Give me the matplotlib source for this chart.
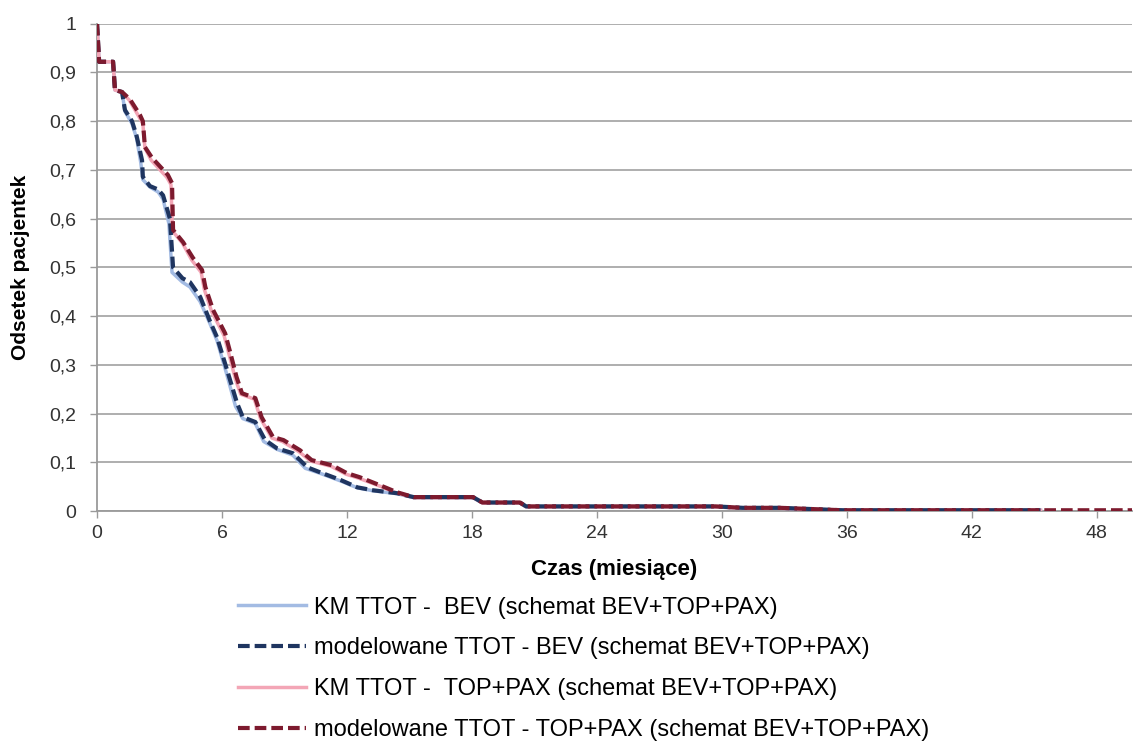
import matplotlib
matplotlib.use("Agg")
import matplotlib.pyplot as plt

plt.rcParams["font.family"] = ["Liberation Sans", "DejaVu Sans"]

# BEV arm (time in months, proportion of patients)
bev_mod_t = [0, 0.1, 0.77, 0.86, 1.2, 1.34, 1.68, 1.9, 2.16, 2.2,
             2.54, 2.93, 3.17, 3.5, 3.65, 4.1, 4.46, 4.95, 5.42, 5.76,
             6.24, 6.72, 7.0, 7.6, 8.07, 8.64, 9.4, 10.1, 10.7, 11.7,
             12.5, 13.25, 14.4, 15.2, 18.05, 18.5, 20.3, 20.6, 29.7, 31.0,
             32.8, 35.8, 45.3]
bev_mod_v = [1.0, 0.922, 0.922, 0.864, 0.86, 0.823, 0.80, 0.77, 0.72, 0.686,
             0.667, 0.66, 0.648, 0.60, 0.50, 0.478, 0.47, 0.44, 0.39, 0.357,
             0.29, 0.222, 0.193, 0.183, 0.146, 0.129, 0.119, 0.09, 0.08, 0.064,
             0.049, 0.043, 0.037, 0.029, 0.029, 0.018, 0.018, 0.01, 0.01, 0.007,
             0.007, 0.002, 0.002]
bev_km_t = [0, 0.1, 0.77, 0.86, 1.2, 1.34, 1.68, 1.9, 2.1, 2.2,
            2.54, 2.93, 3.17, 3.45, 3.6, 4.1, 4.46, 4.95, 5.42, 5.76,
            6.2, 6.65, 7.0, 7.6, 8.0, 8.64, 9.4, 10.0, 10.7, 11.7,
            12.5, 13.25, 14.4, 15.2, 18.05, 18.5, 20.3, 20.6, 29.7, 31.0,
            32.8, 35.8, 45.3]
bev_km_v = [1.0, 0.922, 0.922, 0.864, 0.86, 0.82, 0.795, 0.765, 0.715, 0.68,
            0.665, 0.655, 0.64, 0.59, 0.49, 0.47, 0.46, 0.43, 0.385, 0.35,
            0.285, 0.215, 0.19, 0.18, 0.143, 0.127, 0.115, 0.088, 0.078, 0.062,
            0.048, 0.042, 0.036, 0.028, 0.028, 0.017, 0.017, 0.009, 0.009, 0.006,
            0.006, 0.002, 0.002]

# TOP+PAX arm
tp_mod_t = [0, 0.1, 0.77, 0.86, 1.2, 1.58, 2.06, 2.2, 2.3, 2.64,
            3.4, 3.6, 3.65, 4.13, 4.6, 5.04, 5.2, 5.57, 6.15, 6.4,
            6.7, 6.96, 7.6, 7.9, 8.45, 8.95, 9.75, 10.3, 11.3, 12.0,
            12.6, 13.6, 14.4, 15.2, 18.05, 18.5, 20.3, 20.6, 29.7, 31.0,
            32.8, 35.8, 49.7]
tp_mod_v = [1.0, 0.922, 0.922, 0.864, 0.86, 0.845, 0.813, 0.80, 0.747, 0.725,
            0.69, 0.673, 0.577, 0.552, 0.52, 0.495, 0.46, 0.413, 0.365, 0.325,
            0.275, 0.242, 0.232, 0.193, 0.152, 0.146, 0.125, 0.105, 0.094, 0.078,
            0.07, 0.053, 0.039, 0.029, 0.029, 0.018, 0.018, 0.01, 0.01, 0.007,
            0.007, 0.002, 0.002]
tp_km_t = [0, 0.1, 0.77, 0.86, 1.2, 1.55, 2.0, 2.2, 2.3, 2.6,
           3.35, 3.55, 3.62, 4.1, 4.55, 5.0, 5.15, 5.5, 6.1, 6.35,
           6.65, 6.9, 7.55, 7.85, 8.4, 8.9, 9.7, 10.25, 11.25, 11.95,
           12.55, 13.55, 14.35, 15.2, 18.05, 18.5, 20.3, 20.6, 29.7, 31.0,
           32.8, 35.8, 45.3]
tp_km_v = [1.0, 0.922, 0.922, 0.864, 0.86, 0.843, 0.81, 0.795, 0.745, 0.72,
           0.685, 0.67, 0.575, 0.55, 0.515, 0.49, 0.455, 0.41, 0.36, 0.32,
           0.27, 0.24, 0.23, 0.19, 0.15, 0.143, 0.122, 0.103, 0.092, 0.076,
           0.068, 0.052, 0.038, 0.028, 0.028, 0.017, 0.017, 0.009, 0.009, 0.006,
           0.006, 0.002, 0.002]

labels = [
    "KM TTOT -  BEV (schemat BEV+TOP+PAX)",
    "modelowane TTOT - BEV (schemat BEV+TOP+PAX)",
    "KM TTOT -  TOP+PAX (schemat BEV+TOP+PAX)",
    "modelowane TTOT - TOP+PAX (schemat BEV+TOP+PAX)",
]
x_ticks = [0, 6, 12, 18, 24, 30, 36, 42, 48]
y_ticks = [0, 0.1, 0.2, 0.3, 0.4, 0.5, 0.6, 0.7, 0.8, 0.9, 1.0]
y_tick_labels = ["0", "0,1", "0,2", "0,3", "0,4", "0,5", "0,6", "0,7", "0,8", "0,9", "1"]

fig = plt.figure(figsize=(11.35, 7.42), dpi=100)
ax = fig.add_axes([0.0855, 0.311, 0.912, 0.657])

dash = (0, (2.8, 1.2))
ax.plot(bev_km_t, bev_km_v, color="#a3bbe3", lw=2.5, label=labels[0], zorder=3)
ax.plot(bev_mod_t, bev_mod_v, color="#1f3560", lw=3.0, ls=dash,
        label=labels[1], zorder=4)
ax.plot(tp_km_t, tp_km_v, color="#f3a6b6", lw=2.5, label=labels[2], zorder=3)
ax.plot(tp_mod_t, tp_mod_v, color="#7d1a2e", lw=3.0, ls=dash,
        label=labels[3], zorder=5)

ax.set_xlim(0, 49.7)
ax.set_ylim(0, 1)
ax.set_xticks(x_ticks)
ax.set_yticks(y_ticks)
ax.set_yticklabels(y_tick_labels)
ax.tick_params(axis="both", labelsize=14, labelcolor="#333333", length=5,
               width=1, direction="out", color="#9a9a9a")
ax.tick_params(axis="y", pad=10)
ax.tick_params(axis="x", pad=5)
ax.grid(axis="y", color="#a8a8a8", lw=1.3)
ax.set_axisbelow(True)
for s in ["top", "right"]:
    ax.spines[s].set_visible(False)
for s in ["left", "bottom"]:
    ax.spines[s].set_color("#9a9a9a")
    ax.spines[s].set_linewidth(1.3)

ax.set_xlabel("Czas (miesiące)", fontsize=16, fontweight="bold", labelpad=12)
ax.set_ylabel("Odsetek pacjentek", fontsize=15, fontweight="bold", labelpad=14)

fig.legend(loc="upper left", bbox_to_anchor=(0.199, 0.212), frameon=False,
           fontsize=17, handlelength=2.9, handletextpad=0.35, labelspacing=0.8,
           borderpad=0)

fig.savefig("out.png", dpi=100)
